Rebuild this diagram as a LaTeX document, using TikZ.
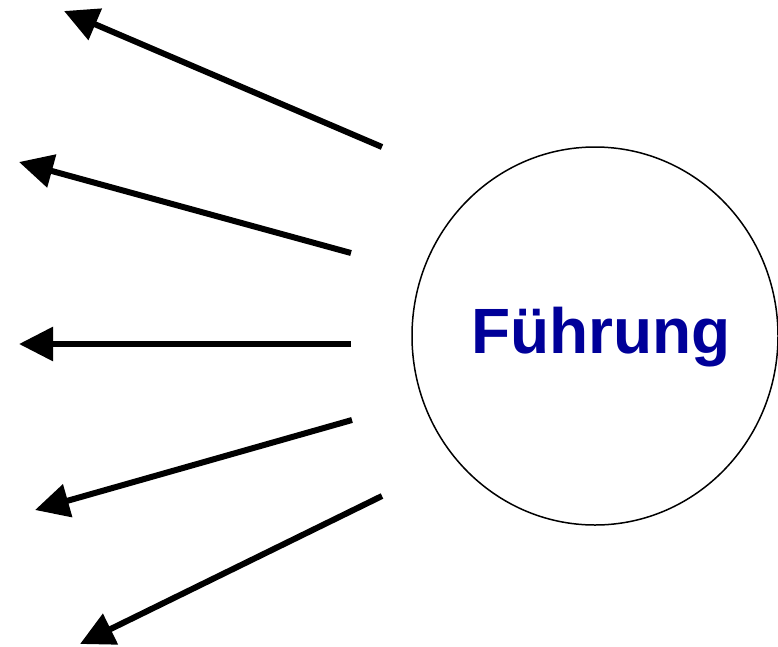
\documentclass[tikz,border=0pt]{standalone}
\usepackage{fontspec}
\setmainfont{Liberation Sans}
\usepackage{tikz}
\usetikzlibrary{arrows.meta, positioning, shapes}
\usetikzlibrary{shapes.geometric}
\usepackage{xcolor}
\definecolor{fuehrungblau}{RGB}{0,0,153}

\begin{document}
\begin{tikzpicture}[x=1pt, y=-1pt, >={Triangle[length=34pt, width=33pt]}]
	\useasboundingbox (0,0) rectangle (778,646);
	
	% Kreis mit Beschriftung
	\node[draw, ellipse, line width=1.5pt, minimum width=366pt, minimum height=378pt, inner sep=0pt] (kreis) at (595,336) {};
	\node[anchor=base, text=fuehrungblau, font=\bfseries\fontsize{64pt}{64pt}\selectfont, inner sep=0pt] (fuehrung) at (601,353) {Führung};
	
	% Anfangspunkte der Pfeile
	\coordinate (a1) at (382,147);
	\coordinate (a2) at (351,253);
	\coordinate (a3) at (351,344);
	\coordinate (a4) at (352,420);
	\coordinate (a5) at (382,496);
	
	% Pfeilspitzen
	\coordinate (z1) at (64,11);
	\coordinate (z2) at (19,162);
	\coordinate (z3) at (19,344);
	\coordinate (z4) at (35,510);
	\coordinate (z5) at (80,644);
	
	% Pfeile nach links
	\foreach \i in {1,...,5}
		\draw[->, line width=6pt] (a\i) -- (z\i);
	
\end{tikzpicture}
\end{document}
